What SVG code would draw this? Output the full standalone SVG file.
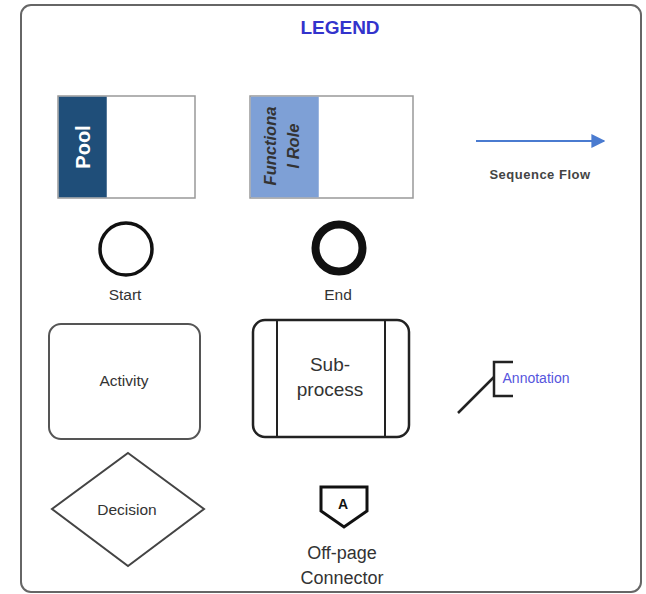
<svg xmlns="http://www.w3.org/2000/svg" width="646" height="594" viewBox="0 0 646 594">
<style>
text{font-family:"Liberation Sans",Arial,sans-serif;fill:#333;text-anchor:middle}
.lbl{font-size:15.5px}
.shape{fill:#fff;stroke:#222;stroke-width:2.5}
</style>
<defs>
<marker id="arr" viewBox="0 0 10 10" refX="9" refY="5" markerWidth="14" markerHeight="14" markerUnits="userSpaceOnUse" orient="auto">
<path d="M0,0 L10,5 L0,10 z" fill="#4a7bd0"/>
</marker>
</defs>
<rect x="0" y="0" width="646" height="594" fill="#fff"/>
<g id="frame">
<rect x="21" y="5" width="620" height="587" rx="10" fill="#fff" stroke="#666" stroke-width="2"/>
<text x="340" y="34" style="font-size:19px;font-weight:bold;fill:#3333cc">LEGEND</text>
</g>
<g id="pool">
<rect x="58" y="96" width="137" height="102" fill="#fff" stroke="#999" stroke-width="1.5"/>
<rect x="58.75" y="96.75" width="48" height="100.5" fill="#1f4e79"/>
<text transform="translate(90,147) rotate(-90)" style="font-size:20px;font-weight:bold;fill:#fff">Pool</text>
</g>
<g id="role">
<rect x="250" y="96" width="163" height="102" fill="#fff" stroke="#999" stroke-width="1.5"/>
<rect x="250.75" y="96.75" width="68" height="100.5" fill="#7ea0d6"/>
<text transform="translate(276,146) rotate(-90)" style="font-size:16.5px;font-weight:bold;font-style:italic;fill:#333">Functiona</text>
<text transform="translate(299,146) rotate(-90)" style="font-size:16.5px;font-weight:bold;font-style:italic;fill:#333">l Role</text>
</g>
<g id="connectors">
<line x1="476" y1="141" x2="604" y2="141" stroke="#4a7bd0" stroke-width="2" marker-end="url(#arr)"/>
</g>
<g id="seqflow">
<text x="540" y="179" style="font-size:13px;font-weight:bold;fill:#444;letter-spacing:0.5px">Sequence Flow</text>
</g>
<g id="start">
<circle cx="126" cy="249" r="26" fill="#fff" stroke="#111" stroke-width="3.5"/>
<text class="lbl" x="125" y="300">Start</text>
</g>
<g id="end">
<circle cx="339" cy="248" r="23.5" fill="#fff" stroke="#111" stroke-width="8"/>
<text class="lbl" x="338" y="300">End</text>
</g>
<g id="activity">
<rect x="49" y="324" width="151" height="115" rx="12" fill="#fff" stroke="#555" stroke-width="2"/>
<text class="lbl" x="124" y="386">Activity</text>
</g>
<g id="subprocess">
<rect x="253" y="320" width="156" height="117" rx="12" class="shape"/>
<line x1="277" y1="320" x2="277" y2="437" stroke="#222" stroke-width="2"/>
<line x1="385" y1="320" x2="385" y2="437" stroke="#222" stroke-width="2"/>
<text x="330" y="371" style="font-size:19px">Sub-</text>
<text x="330" y="396" style="font-size:19px">process</text>
</g>
<g id="annotation">
<path d="M513,362 H494 V396 H513" fill="none" stroke="#222" stroke-width="2.5"/>
<line x1="458" y1="413" x2="494" y2="377" stroke="#222" stroke-width="2.5"/>
<text x="536" y="383" style="font-size:14px;fill:#5555dd">Annotation</text>
</g>
<g id="decision">
<polygon points="128,453 204,509 128,566 52,509" fill="#fff" stroke="#444" stroke-width="2"/>
<text class="lbl" x="127" y="515">Decision</text>
</g>
<g id="offpage">
<polygon points="321,487 367,487 367,511 344,527 321,511" fill="#fff" stroke="#111" stroke-width="3"/>
<text x="343" y="509" style="font-size:14px;font-weight:bold;fill:#111">A</text>
<text x="342" y="559" style="font-size:18px">Off-page</text>
<text x="342" y="584" style="font-size:18px">Connector</text>
</g>
</svg>
